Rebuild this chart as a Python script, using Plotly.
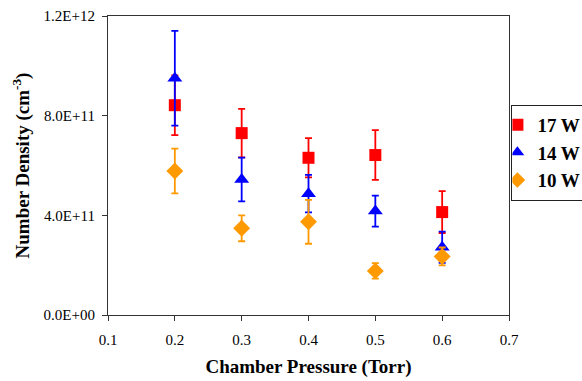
import plotly.graph_objects as go

pressure = [0.2, 0.3, 0.4, 0.5, 0.6]

w17 = [8.42e11, 7.30e11, 6.31e11, 6.42e11, 4.13e11]
w17_err = [1.2e11, 0.97e11, 0.79e11, 1.0e11, 0.84e11]

w14 = [9.50e11, 5.44e11, 4.87e11, 4.17e11, 2.72e11]
w14_err = [1.9e11, 0.88e11, 0.75e11, 0.62e11, 0.63e11]

w10 = [5.78e11, 3.48e11, 3.74e11, 1.77e11, 2.35e11]
w10_err = [0.9e11, 0.52e11, 0.88e11, 0.31e11, 0.36e11]

y_tickvals = [0, 4e11, 8e11, 1.2e12]
y_ticktext = ["0.0E+00", "4.0E+11", "8.0E+11", "1.2E+12"]
x_tickvals = [0.1, 0.2, 0.3, 0.4, 0.5, 0.6, 0.7]

series = [
    ("17 W", w17, w17_err, "#FF0000", "square", 12),
    ("14 W", w14, w14_err, "#0000FF", "triangle-up", 13),
    ("10 W", w10, w10_err, "#FF9900", "diamond", 13),
]

fig = go.Figure()
for name, vals, errs, color, sym, size in series:
    fig.add_trace(go.Scatter(
        x=pressure, y=vals, mode="markers", name=name,
        marker=dict(symbol=sym, size=size, color=color, line=dict(width=0)),
        error_y=dict(type="data", array=errs, visible=True, color=color,
                     thickness=1.8, width=3.5),
    ))

font_family = "Liberation Serif, Times New Roman, serif"
fig.update_layout(
    width=582, height=381,
    paper_bgcolor="white", plot_bgcolor="white",
    margin=dict(l=108, r=73, t=16, b=66, autoexpand=False),
    font=dict(family=font_family, size=15, color="black"),
    showlegend=True,
    legend=dict(
        x=1.006, y=0.703, xanchor="left", yanchor="top",
        bordercolor="#222222", borderwidth=1, indentation=-15,
        font=dict(family=font_family, size=19, color="black", weight="bold"),
        itemsizing="constant", tracegroupgap=0,
    ),
    xaxis=dict(
        range=[0.1, 0.7], tickvals=x_tickvals, ticks="outside", ticklen=5,
        tickcolor="#333333", showline=True, linecolor="#333333", linewidth=1.2,
        mirror=True, showgrid=False, zeroline=False,
        tickfont=dict(size=15), ticklabelstandoff=6,
        title=dict(text="Chamber Pressure (Torr)",
                   font=dict(size=19, weight="bold"), standoff=12),
    ),
    yaxis=dict(
        range=[0, 1.2e12], tickvals=y_tickvals, ticktext=y_ticktext,
        ticks="outside", ticklen=5, tickcolor="#333333",
        showline=True, linecolor="#333333", linewidth=1.2, mirror=True,
        showgrid=False, zeroline=False,
        tickfont=dict(size=15), ticklabelstandoff=4,
        title=dict(text="Number Density (cm<sup>-3</sup>)",
                   font=dict(size=19, weight="bold"), standoff=8),
    ),
)

fig.write_html(
    "out.html",
    config={"displayModeBar": False},
    post_script="document.body.style.margin='0';document.body.style.overflow='hidden';",
)
